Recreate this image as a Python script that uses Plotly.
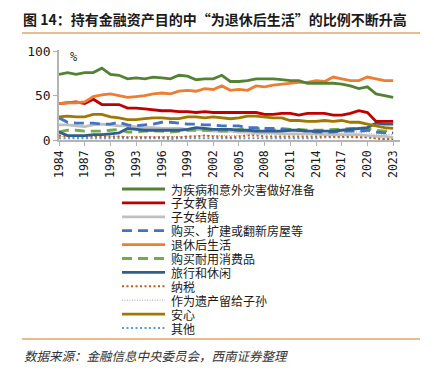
import plotly.graph_objects as go

years = list(range(1984, 2024))

illness = [74, 76, 74, 76, 76, 81, 74, 73, 69, 70, 69, 71, 70, 69, 73, 72, 68, 69, 69, 73,
           66, 66, 67, 69, 69, 69, 68, 67, 67, 64, 64, 64, 64, 63, 61, 58, 60, 52, 50, 48]
education = [41, 42, 43, 41, 46, 40, 40, 40, 36, 36, 35, 34, 33, 33, 32, 32, 31, 32, 31, 31,
             31, 31, 31, 31, 29, 29, 30, 30, 28, 30, 30, 30, 28, 28, 30, 33, 31, 21, 21, 21]
marriage = [17, 17, 16, 15, 17, 18, 17, 16, 16, 15, 14, 14, 13, 13, 13, 12, 12, 11, 10, 10,
            10, 9, 9, 8, 8, 8, 7, 7, 7, 7, 7, 6, 6, 6, 6, 6, 5, 4, 4, 3]
housing = [25, 20, 19, 19, 19, 18, 18, 20, 17, 16, 17, 18, 20, 20, 19, 18, 18, 17, 17, 16,
           16, 16, 14, 14, 13, 13, 12, 11, 11, 10, 9, 9, 9, 10, 10, 10, 11, 9, 8, 8]
retirement = [41, 42, 42, 43, 49, 51, 52, 50, 48, 49, 50, 52, 53, 52, 55, 56, 55, 58, 57, 61,
              56, 57, 56, 61, 60, 62, 63, 64, 65, 65, 67, 66, 71, 69, 67, 67, 71, 69, 67, 67]
durables = [9, 11, 11, 10, 10, 10, 11, 12, 9, 9, 10, 10, 10, 9, 10, 11, 11, 11, 11, 10,
            10, 12, 13, 13, 12, 11, 13, 12, 12, 11, 11, 11, 12, 12, 13, 13, 13, 11, 10, 11]
travel = [9, 5, 5, 5, 6, 6, 7, 8, 13, 12, 11, 11, 11, 11, 11, 12, 14, 13, 12, 12,
          12, 11, 11, 10, 10, 10, 10, 11, 11, 10, 10, 10, 10, 11, 12, 13, 14, 19, 18, 18]
tax = [5, 4, 4, 4, 4, 4, 4, 4, 3, 3, 3, 3, 3, 3, 3, 4, 4, 5, 4, 4,
       3, 4, 5, 5, 4, 4, 4, 4, 4, 4, 4, 4, 4, 4, 4, 3, 3, 2, 1, 1]
inheritance = [4, 4, 4, 4, 4, 5, 4, 4, 4, 4, 4, 4, 4, 4, 4, 4, 5, 5, 5, 5,
               5, 5, 6, 6, 6, 6, 6, 6, 6, 6, 6, 7, 8, 8, 9, 9, 8, 6, 6, 6]
peace = [26, 27, 26, 26, 29, 29, 26, 25, 23, 23, 24, 25, 25, 24, 24, 26, 26, 25, 26, 25,
         24, 25, 27, 27, 26, 25, 25, 22, 22, 21, 21, 22, 21, 22, 20, 20, 18, 16, 14, 13]
other = [2, 2, 2, 2, 2, 2, 2, 2, 2, 2, 2, 2, 2, 1, 2, 2, 2, 2, 2, 2,
         2, 2, 2, 2, 2, 2, 2, 2, 2, 2, 2, 3, 3, 3, 3, 3, 3, 2, 1, 1]

names = ["为疾病和意外灾害做好准备", "子女教育", "子女结婚", "购买、扩建或翻新房屋等", "退休后生活",
         "购买耐用消费品", "旅行和休闲", "纳税", "作为遗产留给子孙", "安心", "其他"]
series = [illness, education, marriage, housing, retirement, durables, travel, tax,
          inheritance, peace, other]
styles = [
    ("#548235", 2.8, "solid"),
    ("#C00000", 2.8, "solid"),
    ("#BFBFBF", 2.8, "solid"),
    ("#4472C4", 2.8, "10px,6px"),
    ("#ED7D31", 2.8, "solid"),
    ("#70AD47", 2.8, "10px,6px"),
    ("#2E5F8F", 2.8, "solid"),
    ("#C55A11", 2.0, "2px,2.5px"),
    ("#A5A5A5", 1.0, "1px,1.5px"),
    ("#A07800", 2.8, "solid"),
    ("#5B9BD5", 2.0, "2px,2.5px"),
]
draw_order = [8, 10, 7, 2, 5, 3, 6, 9, 1, 4, 0]

# page body has an 8px margin; work in reference pixel coordinates and shift
O = 8
W, H = 434 - O, 371 - O
L, R, T, B = 59 - O, 34, 50 - O, 231
PW, PH = W - L - R, H - T - B


def px(x):
    return (x - O - L) / PW


def py(y):
    return (T + PH - (y - O)) / PH


fig = go.Figure()
for i in draw_order:
    c, w, d = styles[i]
    fig.add_trace(go.Scatter(x=years, y=series[i], mode="lines", name=names[i],
                             line=dict(color=c, width=w, dash=d), showlegend=False))

shapes = []
annotations = []
for i, n in enumerate(names):
    c, w, d = styles[i]
    yy = 189 + 13.9 * i
    shapes.append(dict(type="line", xref="paper", yref="paper", x0=px(122), x1=px(165),
                       y0=py(yy), y1=py(yy), line=dict(color=c, width=w, dash=d)))
    annotations.append(dict(x=px(170), y=py(yy), xref="paper", yref="paper", text=n,
                            showarrow=False, xanchor="left", yanchor="middle", borderpad=0,
                            font=dict(family="Noto Sans CJK SC", size=12, color="#1a1a1a")))

for yy in (33, 339):
    shapes.append(dict(type="line", xref="paper", yref="paper", x0=px(22), x1=px(420),
                       y0=py(yy), y1=py(yy), line=dict(color="#E3A464", width=1.5)))

annotations.append(dict(x=px(22), y=py(19), xref="paper", yref="paper",
                        text="<b>图 14：持有金融资产目的中“为退休后生活”的比例不断升高</b>",
                        showarrow=False, xanchor="left", yanchor="middle", borderpad=0,
                        font=dict(family="Noto Sans CJK SC", size=14, color="#1a1a1a")))
annotations.append(dict(x=px(22), y=py(355), xref="paper", yref="paper",
                        text="<i>数据来源：金融信息中央委员会，西南证券整理</i>",
                        showarrow=False, xanchor="left", yanchor="middle",
                        font=dict(family="Noto Sans CJK SC", size=12.5, color="#333333")))
annotations.append(dict(x=px(74), y=py(57), xref="paper", yref="paper", text="%",
                        showarrow=False, xanchor="center", yanchor="middle",
                        font=dict(family="DejaVu Sans Mono", size=12, color="#333333")))

fig.update_layout(
    width=W, height=H,
    margin=dict(l=L, r=R, t=T, b=B),
    paper_bgcolor="white", plot_bgcolor="white",
    shapes=shapes, annotations=annotations,
    showlegend=False,
    xaxis=dict(range=[1984, 2023.8], tickvals=list(range(1984, 2024, 3)), tickangle=-90,
               showgrid=False, zeroline=False, showline=True, linecolor="#B4B4B4", linewidth=1.5,
               ticks="outside", ticklen=4, tickcolor="#B4B4B4",
               tickfont=dict(family="DejaVu Sans Mono", size=11.5, color="#1a1a1a")),
    yaxis=dict(range=[0, 101.5], tickvals=[0, 50, 100], showgrid=False, zeroline=False,
               showline=True, linecolor="#B4B4B4", linewidth=1.5, ticks="outside", ticklen=4,
               tickcolor="#B4B4B4",
               tickfont=dict(family="DejaVu Sans Mono", size=13, color="#1a1a1a")),
)

fig.write_html("out.html")
